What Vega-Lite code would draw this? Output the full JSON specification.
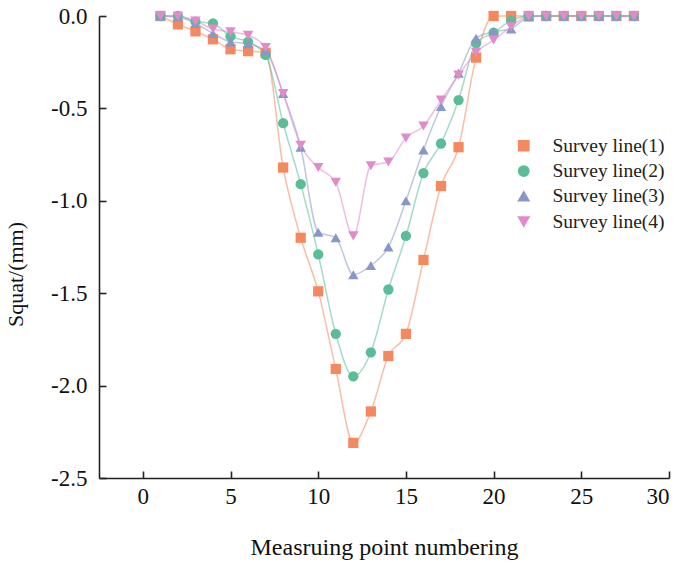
{
  "$schema": "https://vega.github.io/schema/vega-lite/v6.json",
  "width": 570,
  "height": 462,
  "autosize": {"type": "none"},
  "padding": {"left": 99, "top": 16, "right": 16, "bottom": 86},
  "background": "white",
  "config": {
    "view": {"stroke": null},
    "font": "Liberation Serif",
    "axis": {
      "grid": false,
      "domainColor": "#222",
      "domainWidth": 1.6,
      "tickColor": "#222",
      "tickWidth": 1.6,
      "tickSize": -7,
      "labelFont": "Liberation Serif",
      "labelFontSize": 23,
      "labelColor": "#111",
      "titleFont": "Liberation Serif",
      "titleFontSize": 24,
      "titleFontWeight": "normal",
      "titleColor": "#111"
    }
  },
  "datasets": {
    "pts": [
      {"point": 1, "squat": 0, "line": "Survey line(1)"},
      {"point": 2, "squat": -0.045, "line": "Survey line(1)"},
      {"point": 3, "squat": -0.083, "line": "Survey line(1)"},
      {"point": 4, "squat": -0.126, "line": "Survey line(1)"},
      {"point": 5, "squat": -0.18, "line": "Survey line(1)"},
      {"point": 6, "squat": -0.19, "line": "Survey line(1)"},
      {"point": 7, "squat": -0.2, "line": "Survey line(1)"},
      {"point": 8, "squat": -0.82, "line": "Survey line(1)"},
      {"point": 9, "squat": -1.2, "line": "Survey line(1)"},
      {"point": 10, "squat": -1.49, "line": "Survey line(1)"},
      {"point": 11, "squat": -1.91, "line": "Survey line(1)"},
      {"point": 12, "squat": -2.31, "line": "Survey line(1)"},
      {"point": 13, "squat": -2.14, "line": "Survey line(1)"},
      {"point": 14, "squat": -1.84, "line": "Survey line(1)"},
      {"point": 15, "squat": -1.72, "line": "Survey line(1)"},
      {"point": 16, "squat": -1.32, "line": "Survey line(1)"},
      {"point": 17, "squat": -0.92, "line": "Survey line(1)"},
      {"point": 18, "squat": -0.71, "line": "Survey line(1)"},
      {"point": 19, "squat": -0.225, "line": "Survey line(1)"},
      {"point": 20, "squat": 0, "line": "Survey line(1)"},
      {"point": 21, "squat": 0, "line": "Survey line(1)"},
      {"point": 22, "squat": 0, "line": "Survey line(1)"},
      {"point": 23, "squat": 0, "line": "Survey line(1)"},
      {"point": 24, "squat": 0, "line": "Survey line(1)"},
      {"point": 25, "squat": 0, "line": "Survey line(1)"},
      {"point": 26, "squat": 0, "line": "Survey line(1)"},
      {"point": 27, "squat": 0, "line": "Survey line(1)"},
      {"point": 28, "squat": 0, "line": "Survey line(1)"},

      {"point": 1, "squat": 0, "line": "Survey line(2)"},
      {"point": 2, "squat": 0, "line": "Survey line(2)"},
      {"point": 3, "squat": -0.03, "line": "Survey line(2)"},
      {"point": 4, "squat": -0.04, "line": "Survey line(2)"},
      {"point": 5, "squat": -0.11, "line": "Survey line(2)"},
      {"point": 6, "squat": -0.14, "line": "Survey line(2)"},
      {"point": 7, "squat": -0.21, "line": "Survey line(2)"},
      {"point": 8, "squat": -0.58, "line": "Survey line(2)"},
      {"point": 9, "squat": -0.91, "line": "Survey line(2)"},
      {"point": 10, "squat": -1.29, "line": "Survey line(2)"},
      {"point": 11, "squat": -1.72, "line": "Survey line(2)"},
      {"point": 12, "squat": -1.95, "line": "Survey line(2)"},
      {"point": 13, "squat": -1.82, "line": "Survey line(2)"},
      {"point": 14, "squat": -1.48, "line": "Survey line(2)"},
      {"point": 15, "squat": -1.19, "line": "Survey line(2)"},
      {"point": 16, "squat": -0.85, "line": "Survey line(2)"},
      {"point": 17, "squat": -0.69, "line": "Survey line(2)"},
      {"point": 18, "squat": -0.455, "line": "Survey line(2)"},
      {"point": 19, "squat": -0.147, "line": "Survey line(2)"},
      {"point": 20, "squat": -0.09, "line": "Survey line(2)"},
      {"point": 21, "squat": -0.025, "line": "Survey line(2)"},
      {"point": 22, "squat": 0, "line": "Survey line(2)"},
      {"point": 23, "squat": 0, "line": "Survey line(2)"},
      {"point": 24, "squat": 0, "line": "Survey line(2)"},
      {"point": 25, "squat": 0, "line": "Survey line(2)"},
      {"point": 26, "squat": 0, "line": "Survey line(2)"},
      {"point": 27, "squat": 0, "line": "Survey line(2)"},
      {"point": 28, "squat": 0, "line": "Survey line(2)"},

      {"point": 1, "squat": 0, "line": "Survey line(3)"},
      {"point": 2, "squat": -0.005, "line": "Survey line(3)"},
      {"point": 3, "squat": -0.04, "line": "Survey line(3)"},
      {"point": 4, "squat": -0.095, "line": "Survey line(3)"},
      {"point": 5, "squat": -0.14, "line": "Survey line(3)"},
      {"point": 6, "squat": -0.15, "line": "Survey line(3)"},
      {"point": 7, "squat": -0.19, "line": "Survey line(3)"},
      {"point": 8, "squat": -0.42, "line": "Survey line(3)"},
      {"point": 9, "squat": -0.71, "line": "Survey line(3)"},
      {"point": 10, "squat": -1.17, "line": "Survey line(3)"},
      {"point": 11, "squat": -1.2, "line": "Survey line(3)"},
      {"point": 12, "squat": -1.4, "line": "Survey line(3)"},
      {"point": 13, "squat": -1.35, "line": "Survey line(3)"},
      {"point": 14, "squat": -1.25, "line": "Survey line(3)"},
      {"point": 15, "squat": -1.0, "line": "Survey line(3)"},
      {"point": 16, "squat": -0.725, "line": "Survey line(3)"},
      {"point": 17, "squat": -0.49, "line": "Survey line(3)"},
      {"point": 18, "squat": -0.31, "line": "Survey line(3)"},
      {"point": 19, "squat": -0.12, "line": "Survey line(3)"},
      {"point": 20, "squat": -0.085, "line": "Survey line(3)"},
      {"point": 21, "squat": -0.07, "line": "Survey line(3)"},
      {"point": 22, "squat": -0.005, "line": "Survey line(3)"},
      {"point": 23, "squat": 0, "line": "Survey line(3)"},
      {"point": 24, "squat": 0, "line": "Survey line(3)"},
      {"point": 25, "squat": 0, "line": "Survey line(3)"},
      {"point": 26, "squat": 0, "line": "Survey line(3)"},
      {"point": 27, "squat": 0, "line": "Survey line(3)"},
      {"point": 28, "squat": 0, "line": "Survey line(3)"},

      {"point": 1, "squat": 0, "line": "Survey line(4)"},
      {"point": 2, "squat": 0, "line": "Survey line(4)"},
      {"point": 3, "squat": -0.027, "line": "Survey line(4)"},
      {"point": 4, "squat": -0.07, "line": "Survey line(4)"},
      {"point": 5, "squat": -0.086, "line": "Survey line(4)"},
      {"point": 6, "squat": -0.105, "line": "Survey line(4)"},
      {"point": 7, "squat": -0.17, "line": "Survey line(4)"},
      {"point": 8, "squat": -0.42, "line": "Survey line(4)"},
      {"point": 9, "squat": -0.7, "line": "Survey line(4)"},
      {"point": 10, "squat": -0.82, "line": "Survey line(4)"},
      {"point": 11, "squat": -0.9, "line": "Survey line(4)"},
      {"point": 12, "squat": -1.19, "line": "Survey line(4)"},
      {"point": 13, "squat": -0.81, "line": "Survey line(4)"},
      {"point": 14, "squat": -0.79, "line": "Survey line(4)"},
      {"point": 15, "squat": -0.66, "line": "Survey line(4)"},
      {"point": 16, "squat": -0.595, "line": "Survey line(4)"},
      {"point": 17, "squat": -0.455, "line": "Survey line(4)"},
      {"point": 18, "squat": -0.32, "line": "Survey line(4)"},
      {"point": 19, "squat": -0.197, "line": "Survey line(4)"},
      {"point": 20, "squat": -0.13, "line": "Survey line(4)"},
      {"point": 21, "squat": -0.058, "line": "Survey line(4)"},
      {"point": 22, "squat": 0, "line": "Survey line(4)"},
      {"point": 23, "squat": 0, "line": "Survey line(4)"},
      {"point": 24, "squat": 0, "line": "Survey line(4)"},
      {"point": 25, "squat": 0, "line": "Survey line(4)"},
      {"point": 26, "squat": 0, "line": "Survey line(4)"},
      {"point": 27, "squat": 0, "line": "Survey line(4)"},
      {"point": 28, "squat": 0, "line": "Survey line(4)"}
    ]
  },
  "data": {"name": "pts"},
  "encoding": {
    "x": {
      "field": "point",
      "type": "quantitative",
      "scale": {"domain": [-2.5, 30], "nice": false, "zero": false},
      "axis": {
        "values": [0, 5, 10, 15, 20, 25, 30],
        "title": "Measruing point numbering",
        "labelPadding": 14,
        "titleX": 285,
        "titleY": 69,
        "titleBaseline": "middle"
      }
    },
    "y": {
      "field": "squat",
      "type": "quantitative",
      "scale": {"domain": [-2.5, 0], "nice": false, "zero": false},
      "axis": {
        "values": [0, -0.5, -1, -1.5, -2, -2.5],
        "labelExpr": "replace(format(datum.value, '.1f'), '\u2212', '-')",
        "title": "Squat/(mm)",
        "titleFontSize": 22,
        "labelPadding": 19,
        "titleX": -84,
        "titleY": 258,
        "titleBaseline": "middle"
      }
    },
    "color": {
      "field": "line",
      "type": "nominal",
      "scale": {
        "domain": ["Survey line(1)", "Survey line(2)", "Survey line(3)", "Survey line(4)"],
        "range": ["#F4895F", "#5ABD97", "#8897C9", "#E28BCA"]
      },
      "legend": {
        "orient": "none",
        "legendX": 415,
        "legendY": 120,
        "title": null,
        "padding": 0,
        "labelFont": "Liberation Serif",
        "labelFontSize": 19.5,
        "labelColor": "#222",
        "labelOffset": 19,
        "rowPadding": 4.3,
        "symbolSize": 100,
        "symbolOpacity": 1
      }
    }
  },
  "layer": [
    {
      "mark": {"type": "line", "interpolate": "monotone", "strokeWidth": 1.5, "opacity": 0.55},
      "encoding": {
        "detail": {"field": "line"}
      }
    },
    {
      "mark": {"type": "point", "filled": true, "opacity": 1},
      "encoding": {
        "shape": {
          "field": "line",
          "type": "nominal",
          "scale": {
            "domain": ["Survey line(1)", "Survey line(2)", "Survey line(3)", "Survey line(4)"],
            "range": ["square", "circle", "triangle-up", "triangle-down"]
          }
        },
        "size": {
          "field": "line",
          "type": "nominal",
          "scale": {
            "domain": ["Survey line(1)", "Survey line(2)", "Survey line(3)", "Survey line(4)"],
            "range": [105, 110, 135, 135]
          }
        }
      }
    }
  ]
}
